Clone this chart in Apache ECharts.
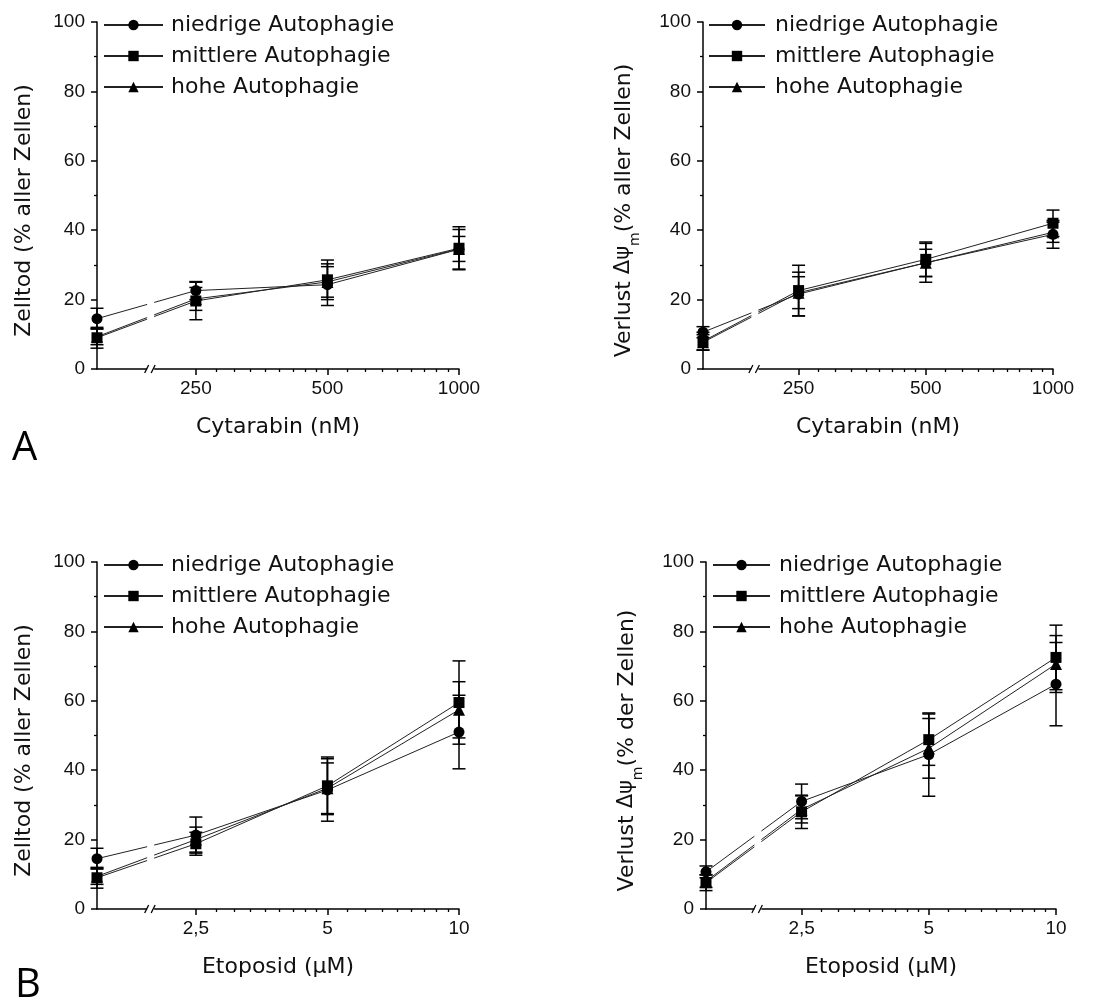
<!DOCTYPE html>
<html>
<head>
<meta charset="utf-8">
<title>Autophagie – Zelltod und Verlust ΔΨm</title>
<script src="https://cdn.jsdelivr.net/npm/echarts@6/dist/echarts.min.js"></script>
<style>
  html, body { margin: 0; padding: 0; background: #fff; }
  #chart { width: 1100px; height: 1005px; }
</style>
</head>
<body>
<div id="chart"></div>
<script>
// Dosen (nach der Kontrolle) und Beschriftungen
const cytDoses = [250, 500, 1000];
const etoDoses = [2.5, 5, 10];
const cytTickLabels = ['250', '500', '1000'];
const etoTickLabels = ['2,5', '5', '10'];

const seriesNames = ['niedrige Autophagie', 'mittlere Autophagie', 'hohe Autophagie'];
const seriesSymbols = ['circle', 'rect', 'triangle'];

// A – Zelltod nach Cytarabin (Kontrolle, 250, 500, 1000 nM)
const cytTodNiedrig = [14.5, 22.6, 24.3, 34.5];
const cytTodNiedrigErr = [3.0, 2.6, 6.0, 5.7];
const cytTodMittel = [9.0, 19.6, 25.7, 34.8];
const cytTodMittelErr = [3.0, 5.4, 5.7, 6.2];
const cytTodHoch = [9.3, 20.2, 25.1, 34.6];
const cytTodHochErr = [2.3, 3.3, 4.4, 3.6];

// A – Verlust Δψm nach Cytarabin
const cytMmpNiedrig = [10.6, 21.6, 30.6, 38.8];
const cytMmpNiedrigErr = [1.6, 6.3, 5.6, 4.0];
const cytMmpMittel = [8.0, 22.6, 31.6, 42.0];
const cytMmpMittelErr = [2.6, 7.3, 5.0, 3.8];
const cytMmpHoch = [7.7, 22.0, 30.6, 39.4];
const cytMmpHochErr = [2.2, 4.6, 3.9, 2.9];

// B – Zelltod nach Etoposid (Kontrolle, 2,5, 5, 10 µM)
const etoTodNiedrig = [14.5, 21.3, 34.3, 51.0];
const etoTodNiedrigErr = [3.0, 5.2, 9.0, 10.6];
const etoTodMittel = [9.0, 18.8, 35.5, 59.5];
const etoTodMittelErr = [3.0, 3.3, 8.3, 12.0];
const etoTodHoch = [9.4, 20.0, 34.8, 57.4];
const etoTodHochErr = [2.3, 3.6, 7.3, 8.1];

// B – Verlust Δψm nach Etoposid
const etoMmpNiedrig = [10.7, 31.0, 44.5, 64.8];
const etoMmpNiedrigErr = [1.7, 5.0, 12.0, 12.0];
const etoMmpMittel = [7.6, 28.0, 48.8, 72.5];
const etoMmpMittelErr = [2.3, 4.8, 7.4, 9.3];
const etoMmpHoch = [8.0, 28.7, 46.3, 70.6];
const etoMmpHochErr = [1.8, 3.9, 8.6, 8.2];

// Kontrolle sitzt links vom Achsenbruch, auf der log-Achse bei ~0.594 x erste Dosis
const ctrlRatio = 0.594;
const breakRatio = 0.788;

const FONT_TICK = 'Liberation Sans, Arial, sans-serif';
const FONT_TEXT = 'DejaVu Sans, Verdana, sans-serif';
const INK = '#111';

const panels = [
  {
    grid: { left: 97, top: 22, width: 362, height: 347 },
    legend: { left: 103, top: 14, itemWidth: 59, gap: 3 },
    doses: cytDoses, labels: cytTickLabels,
    xName: 'Cytarabin (nM)', yName: 'Zelltod (% aller Zellen)', mmp: false,
    values: [cytTodNiedrig, cytTodMittel, cytTodHoch],
    errors: [cytTodNiedrigErr, cytTodMittelErr, cytTodHochErr]
  },
  {
    grid: { left: 703, top: 22, width: 350, height: 347 },
    legend: { left: 708, top: 14, itemWidth: 56, gap: 5 },
    doses: cytDoses, labels: cytTickLabels,
    xName: 'Cytarabin (nM)', yName: '% aller Zellen', mmp: true,
    values: [cytMmpNiedrig, cytMmpMittel, cytMmpHoch],
    errors: [cytMmpNiedrigErr, cytMmpMittelErr, cytMmpHochErr]
  },
  {
    grid: { left: 97, top: 562, width: 362, height: 347 },
    legend: { left: 103, top: 554, itemWidth: 59, gap: 3 },
    doses: etoDoses, labels: etoTickLabels,
    xName: 'Etoposid (µM)', yName: 'Zelltod (% aller Zellen)', mmp: false,
    values: [etoTodNiedrig, etoTodMittel, etoTodHoch],
    errors: [etoTodNiedrigErr, etoTodMittelErr, etoTodHochErr]
  },
  {
    grid: { left: 706, top: 562, width: 350, height: 347 },
    legend: { left: 712, top: 554, itemWidth: 57, gap: 4 },
    doses: etoDoses, labels: etoTickLabels,
    xName: 'Etoposid (µM)', yName: '% der Zellen', mmp: true,
    values: [etoMmpNiedrig, etoMmpMittel, etoMmpHoch],
    errors: [etoMmpNiedrigErr, etoMmpMittelErr, etoMmpHochErr]
  }
];

// Fehlerbalken mit Kappen
function renderErrorBar(params, api) {
  const x = api.value(0), y = api.value(1), e = api.value(2);
  const hi = api.coord([x, y + e]);
  const lo = api.coord([x, y - e]);
  const w = 6.5;
  const style = { stroke: '#000', lineWidth: 1.5 };
  return {
    type: 'group',
    children: [
      { type: 'line', shape: { x1: hi[0], y1: hi[1], x2: lo[0], y2: lo[1] }, style },
      { type: 'line', shape: { x1: hi[0] - w, y1: hi[1], x2: hi[0] + w, y2: hi[1] }, style },
      { type: 'line', shape: { x1: lo[0] - w, y1: lo[1], x2: lo[0] + w, y2: lo[1] }, style }
    ]
  };
}

// Achsenbruch "//" und Lücke in den Linien
function renderBreak(params, api) {
  const x = api.value(0);
  const p = api.coord([x, 0]);
  const top = api.coord([x, 60]);
  const style = { stroke: '#000', lineWidth: 1.3 };
  return {
    type: 'group',
    children: [
      { type: 'rect', shape: { x: p[0] - 3.5, y: top[1], width: 7, height: p[1] - top[1] + 3 }, style: { fill: '#fff' } },
      { type: 'line', shape: { x1: p[0] - 6, y1: p[1] + 4, x2: p[0] - 2, y2: p[1] - 4 }, style },
      { type: 'line', shape: { x1: p[0] + 0.5, y1: p[1] + 4, x2: p[0] + 4.5, y2: p[1] - 4 }, style }
    ]
  };
}

const grids = [], xAxes = [], yAxes = [], legends = [], series = [];

panels.forEach((pn, i) => {
  const d = pn.doses;
  const xs = [Math.log2(d[0] * ctrlRatio)].concat(d.map(v => Math.log2(v)));
  const xMin = xs[0];
  const xMax = Math.log2(d[d.length - 1]);
  const majorX = d.map(v => Math.log2(v));
  const minorX = [];
  for (let k = 0; k < d.length - 1; k++) {
    for (let m = 1; m <= 8; m++) minorX.push(Math.log2(d[k] + m * (d[k + 1] - d[k]) / 9));
  }

  grids.push(Object.assign({ outerBoundsMode: 'none', containLabel: false }, pn.grid));

  xAxes.push({
    type: 'value', gridIndex: i, position: 'bottom', min: xMin, max: xMax,
    axisLine: { show: true, onZero: false, lineStyle: { color: '#000', width: 1.5 } },
    axisTick: { show: true, customValues: majorX, length: 6, lineStyle: { color: '#000', width: 1.5 } },
    axisLabel: {
      customValues: majorX, margin: 10, fontSize: 19, fontFamily: FONT_TICK, color: INK,
      formatter: v => {
        const idx = majorX.findIndex(t => Math.abs(t - v) < 1e-6);
        return idx >= 0 ? pn.labels[idx] : '';
      }
    },
    splitLine: { show: false },
    name: pn.xName, nameLocation: 'middle', nameGap: 47,
    nameTextStyle: { fontFamily: FONT_TEXT, fontSize: 22, color: INK }
  });
  xAxes.push({
    type: 'value', gridIndex: i, position: 'bottom', min: xMin, max: xMax,
    axisLine: { show: false },
    axisTick: { show: true, customValues: minorX, length: 3, lineStyle: { color: '#000', width: 1.3 } },
    axisLabel: { show: false },
    splitLine: { show: false }
  });

  const yName = pn.mmp
    ? '{t|Verlust }{g|Δψ}{s|m}{t|(' + pn.yName + ')}'
    : pn.yName;
  yAxes.push({
    type: 'value', gridIndex: i, min: 0, max: 100, interval: 20,
    axisLine: { show: true, lineStyle: { color: '#000', width: 1.5 } },
    axisTick: { show: true, length: 6, lineStyle: { color: '#000', width: 1.5 } },
    minorTick: { show: true, splitNumber: 2, length: 3, lineStyle: { color: '#000', width: 1.3 } },
    splitLine: { show: false },
    axisLabel: { margin: 12, fontSize: 19, fontFamily: FONT_TICK, color: INK },
    name: yName, nameLocation: 'middle', nameRotate: 90, nameGap: pn.mmp ? 68 : 62,
    nameTextStyle: {
      fontFamily: FONT_TEXT, fontSize: 22, color: INK, padding: [0, 30, 0, 0],
      rich: {
        t: { fontFamily: FONT_TEXT, fontSize: 22, lineHeight: 22, color: INK, verticalAlign: 'top' },
        g: { fontFamily: FONT_TEXT, fontSize: 21, lineHeight: 22, color: INK, verticalAlign: 'top' },
        s: { fontFamily: FONT_TEXT, fontSize: 14, lineHeight: 14, color: INK, verticalAlign: 'top', padding: [15, 0, 0, 0] }
      }
    }
  });

  legends.push({
    data: seriesNames, orient: 'vertical', selectedMode: false, padding: 0,
    left: pn.legend.left, top: pn.legend.top,
    itemWidth: pn.legend.itemWidth, itemHeight: 13, itemGap: 9,
    textStyle: { fontFamily: FONT_TEXT, fontSize: 22, lineHeight: 22, color: INK, padding: [0, 0, 0, pn.legend.gap] }
  });

  seriesNames.forEach((name, s) => {
    series.push({
      type: 'custom', name: name + ' SD', xAxisIndex: i * 2, yAxisIndex: i,
      data: xs.map((x, j) => [x, pn.values[s][j], pn.errors[s][j]]),
      encode: { x: 0, y: 1 }, renderItem: renderErrorBar, z: 1, silent: true
    });
  });
  seriesNames.forEach((name, s) => {
    series.push({
      type: 'line', name: name, xAxisIndex: i * 2, yAxisIndex: i,
      data: xs.map((x, j) => [x, pn.values[s][j]]),
      symbol: seriesSymbols[s], symbolSize: s === 2 ? 12 : 11,
      itemStyle: { color: '#000' },
      lineStyle: { color: '#222', width: 1 },
      z: 2, silent: true, emphasis: { disabled: true }
    });
  });
  series.push({
    type: 'custom', name: 'Achsenbruch', xAxisIndex: i * 2, yAxisIndex: i,
    data: [[Math.log2(d[0] * breakRatio), 0]], encode: { x: 0, y: 1 },
    renderItem: renderBreak, z: 3, silent: true, clip: false
  });
});

const chart = echarts.init(document.getElementById('chart'), null, { renderer: 'canvas' });
chart.setOption({
  backgroundColor: '#fff',
  animation: false,
  tooltip: { show: false },
  grid: grids,
  xAxis: xAxes,
  yAxis: yAxes,
  legend: legends,
  series: series,
  graphic: [
    { type: 'text', left: 12, top: 429, style: { text: 'A', font: '40px "Open Sans", sans-serif', fill: '#000' } },
    { type: 'text', left: 15, top: 966, style: { text: 'B', font: '40px "Open Sans", sans-serif', fill: '#000' } }
  ]
});
</script>
</body>
</html>
